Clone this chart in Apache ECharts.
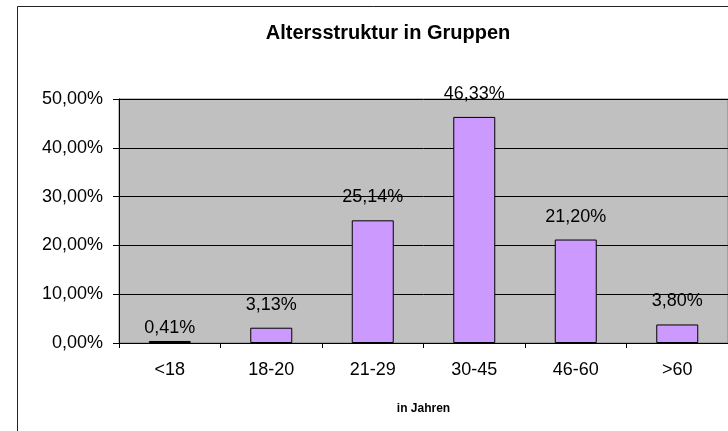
<!DOCTYPE html>
<html>
<head>
<meta charset="utf-8">
<script src="https://cdn.jsdelivr.net/npm/echarts@6/dist/echarts.min.js"></script>
<style>
  html, body { margin: 0; padding: 0; background: #fff; }
  #chart { width: 728px; height: 431px; }
</style>
</head>
<body>
<div id="chart"></div>
<script>
// Altersgruppen und Anteile in Prozent
const categories = ['<18', '18-20', '21-29', '30-45', '46-60', '>60'];
const shares = [0.41, 3.13, 25.14, 46.33, 21.20, 3.80];

const fmt = v => v.toFixed(2).replace('.', ',') + '%';
const font = 'Liberation Sans, Arial, sans-serif';

// kleine Balken: Beschriftung naeher am Balken (wie in Excel)
const barData = shares.map(v => v < 1 ? { value: v, label: { distance: 4 } } : v);

let myChart = echarts.init(document.getElementById('chart'));
let option = {
  backgroundColor: '#fff',
  animation: false,
  graphic: [{
    type: 'rect',
    shape: { x: 17.5, y: 6.5, width: 760, height: 460 },
    style: { fill: 'none', stroke: '#222', lineWidth: 1 },
    silent: true
  }],
  title: {
    text: 'Altersstruktur in Gruppen',
    left: 383,
    top: 18,
    textAlign: 'center',
    textStyle: { fontFamily: font, fontSize: 20, fontWeight: 'bold', color: '#000' }
  },
  grid: {
    left: 119, top: 99, width: 615, bottom: 88,
    show: true, backgroundColor: '#C0C0C0', borderColor: '#808080', borderWidth: 1
  },
  xAxis: {
    type: 'category',
    data: categories,
    name: 'in Jahren',
    nameLocation: 'middle',
    nameGap: 60,
    nameTextStyle: { fontFamily: font, fontSize: 12, fontWeight: 'bold', color: '#000' },
    axisLine: { lineStyle: { color: '#000', width: 1 } },
    axisTick: { show: true, length: 5, inside: false, lineStyle: { color: '#000' } },
    axisLabel: { margin: 18, fontFamily: font, fontSize: 18, color: '#000' },
    splitLine: { show: false }
  },
  yAxis: {
    type: 'value',
    min: 0, max: 50, interval: 10,
    axisLine: { show: true, lineStyle: { color: '#000', width: 1 } },
    axisTick: { show: true, length: 6, lineStyle: { color: '#000' } },
    axisLabel: { margin: 16, fontFamily: font, fontSize: 18, color: '#000', formatter: fmt },
    splitLine: { show: true, lineStyle: { color: '#000', width: 1 } }
  },
  series: [{
    type: 'bar',
    data: barData,
    barWidth: 42,
    itemStyle: { color: '#CC99FF', borderColor: '#000', borderWidth: 1 },
    label: {
      show: true, position: 'top', distance: 14,
      fontFamily: font, fontSize: 18, color: '#000',
      formatter: p => fmt(p.value)
    }
  }]
};
option && myChart.setOption(option);
</script>
</body>
</html>
